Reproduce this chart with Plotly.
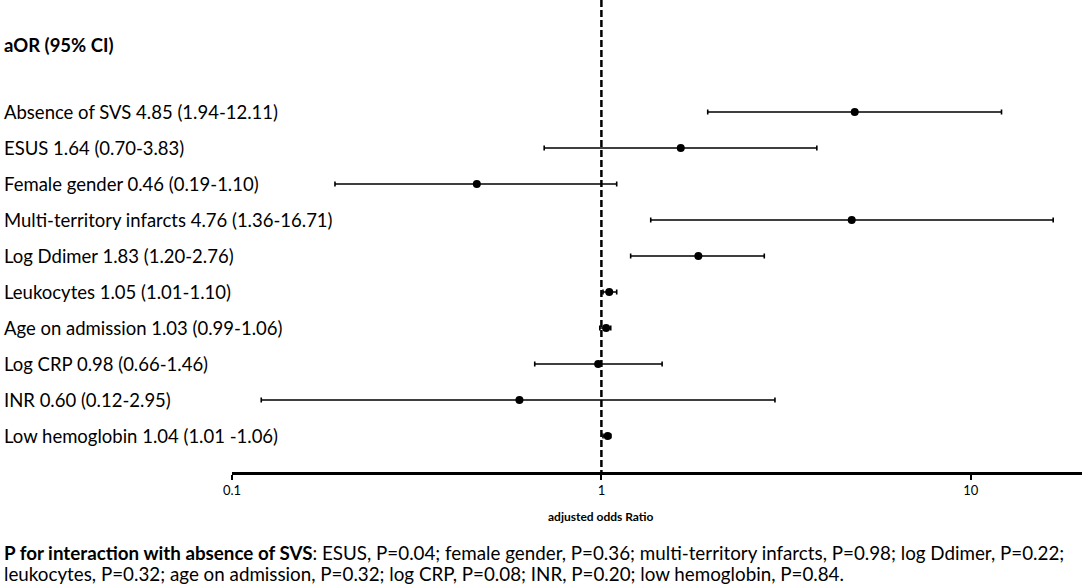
import plotly.graph_objects as go

# forest plot data
labels = [
    'Absence of SVS 4.85 (1.94-12.11)',
    'ESUS 1.64 (0.70-3.83)',
    'Female gender 0.46 (0.19-1.10)',
    'Multi-territory infarcts 4.76 (1.36-16.71)',
    'Log Ddimer 1.83 (1.20-2.76)',
    'Leukocytes 1.05 (1.01-1.10)',
    'Age on admission 1.03 (0.99-1.06)',
    'Log CRP 0.98 (0.66-1.46)',
    'INR 0.60 (0.12-2.95)',
    'Low hemoglobin 1.04 (1.01 -1.06)',
]
aor = [4.85, 1.64, 0.46, 4.76, 1.83, 1.05, 1.03, 0.98, 0.60, 1.04]
ci_low = [1.94, 0.70, 0.19, 1.36, 1.20, 1.01, 0.99, 0.66, 0.12, 1.01]
ci_high = [12.11, 3.83, 1.10, 16.71, 2.76, 1.10, 1.06, 1.46, 2.95, 1.06]
tick_vals = [0.1, 1, 10]
tick_text = ['0.1', '1', '10']

footnote_1 = ('<b>P for interaction with absence of SVS</b>: ESUS, P=0.04; female gender, P=0.36; '
              'multi-territory infarcts, P=0.98; log Ddimer, P=0.22;')
footnote_2 = ('leukocytes, P=0.32; age on admission, P=0.32; log CRP, P=0.08; INR, P=0.20; '
              'low hemoglobin, P=0.84.')

rows = list(range(1, len(labels) + 1))
y_top, y_bottom = -2.11, 11.0

fig = go.Figure()

# reference line at OR = 1
fig.add_trace(go.Scatter(
    x=[1, 1], y=[y_top, y_bottom], mode='lines',
    line=dict(color='black', width=2.5, dash='7px,3px'),
    hoverinfo='skip', showlegend=False,
))

fig.add_trace(go.Scatter(
    x=aor, y=rows, mode='markers',
    marker=dict(color='black', size=8),
    error_x=dict(
        type='data', symmetric=False,
        array=[h - a for h, a in zip(ci_high, aor)],
        arrayminus=[a - l for a, l in zip(aor, ci_low)],
        color='black', thickness=1.6, width=2.5,
    ),
    showlegend=False,
))

font = 'Lato, Open Sans, sans-serif'
left_x = -0.2706
annotations = []
for r, lab in zip(rows, labels):
    annotations.append(dict(
        text=lab, xref='paper', x=left_x, yref='y', y=r,
        xanchor='left', yanchor='middle', showarrow=False,
        font=dict(size=18.5, color='black', family=font),
    ))

# header
annotations.append(dict(
    text='<b>aOR (95% CI)</b>', xref='paper', x=left_x, yref='y', y=-0.86,
    xanchor='left', yanchor='middle', showarrow=False,
    font=dict(size=18.5, color='black', family=font),
))

# axis title sits under the 1 tick
annotations.append(dict(
    text='<b>adjusted odds Ratio</b>', xref='x', x=0, yref='paper', y=-0.0935,
    xanchor='center', yanchor='middle', showarrow=False,
    font=dict(size=12, color='black', family=font),
))

# footnote, two lines
for txt, yy in [(footnote_1, -0.1716), (footnote_2, -0.2140)]:
    annotations.append(dict(
        text=txt, xref='paper', x=left_x, yref='paper', y=yy,
        xanchor='left', yanchor='middle', align='left', showarrow=False,
        font=dict(size=18.8, color='black', family=font),
    ))

fig.update_layout(
    width=1084, height=584,
    plot_bgcolor='white', paper_bgcolor='white',
    margin=dict(l=232, r=2, t=0, b=112),
    xaxis=dict(
        type='log', range=[-1, 1.301],
        tickvals=tick_vals, ticktext=tick_text,
        showline=True, linecolor='black', linewidth=2.5,
        ticks='outside', ticklen=5, tickwidth=2, tickcolor='black',
        showgrid=False, zeroline=False,
        tickfont=dict(size=13, color='black', family=font),
    ),
    yaxis=dict(
        range=[y_bottom, y_top], visible=False, showgrid=False, zeroline=False,
    ),
    annotations=annotations,
)

fig.write_html('out.html', config={'displayModeBar': False},
               post_script="document.body.style.margin='0';")
